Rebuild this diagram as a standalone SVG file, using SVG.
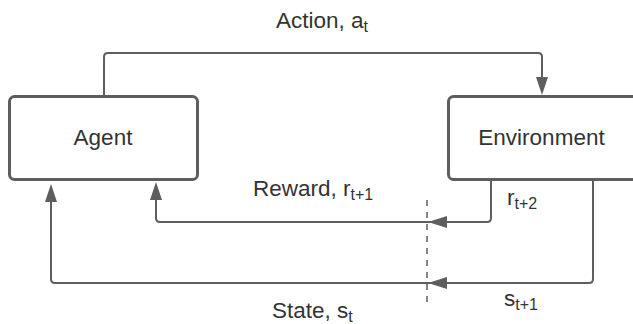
<svg xmlns="http://www.w3.org/2000/svg" width="633" height="324" viewBox="0 0 633 324">
<defs>
<style>
.box{fill:#fff;stroke:#5e5e5e;stroke-width:3}
.ln{fill:none;stroke:#5e5e5e;stroke-width:2}
.dash{fill:none;stroke:#5e5e5e;stroke-width:1.5;stroke-dasharray:6,6}
.ah{fill:#5e5e5e}
text{font-family:"Liberation Sans",Arial,sans-serif;fill:#333;font-size:22.5px}
.sub{font-size:16px}
</style>
</defs>
<rect width="633" height="324" fill="#fff"/>
<g id="agent">
<rect class="box" x="9.5" y="96.5" width="188" height="83" rx="5"/>
<text x="103" y="145" text-anchor="middle">Agent</text>
</g>
<g id="environment">
<rect class="box" x="448.5" y="96.5" width="190" height="83" rx="5"/>
<text x="541.5" y="145" text-anchor="middle">Environment</text>
</g>
<g id="connectors">
<path class="ln" d="M104 96 V57 Q104 53 108 53 H538 Q542 53 542 57 V80"/>
<polygon class="ah" points="536,77 548,77 542,95"/>
<path class="ln" d="M491 180 V218 Q491 222 487 222 H160 Q156 222 156 218 V200"/>
<polygon class="ah" points="428,222 447,216 447,228"/>
<polygon class="ah" points="156,182 150,200 162,200"/>
<path class="ln" d="M593 180 V279 Q593 283 589 283 H55 Q51 283 51 279 V200"/>
<polygon class="ah" points="428,283 447,277 447,289"/>
<polygon class="ah" points="51,184 45,202 57,202"/>
<path class="dash" d="M427 200 V306"/>
</g>
<g id="labels">
<text x="276" y="28">Action, a<tspan class="sub" dy="4">t</tspan></text>
<text x="253" y="196">Reward, r<tspan class="sub" dy="4">t+1</tspan></text>
<text x="507" y="205">r<tspan class="sub" dy="4">t+2</tspan></text>
<text x="272" y="318">State, s<tspan class="sub" dy="4">t</tspan></text>
<text x="504" y="306">s<tspan class="sub" dy="4">t+1</tspan></text>
</g>
</svg>
